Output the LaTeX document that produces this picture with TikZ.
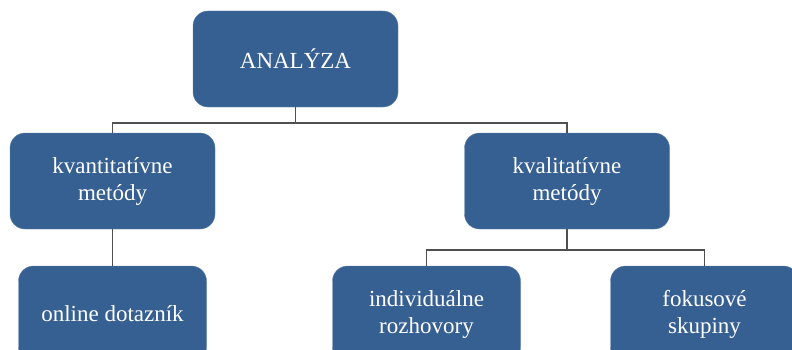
\documentclass[tikz,border=0pt]{standalone}
\usepackage{fontspec}
\setmainfont{Liberation Serif}
\usepackage{tikz}
\usetikzlibrary{positioning, shapes.geometric}
\definecolor{boxblue}{RGB}{55,96,146}
\definecolor{linegray}{RGB}{80,80,80}
\tikzset{
  topbox/.style={ fill=boxblue, draw=boxblue!80!white, rounded corners=15pt, text=white, align=center,
    minimum width=205pt, minimum height=96pt, font=\fontsize{23}{27}\selectfont }
}
\tikzset{
  leafbox/.style={ topbox, minimum width=188pt }
}
\tikzset{
  link/.style={ draw=linegray, line width=1.4pt }
}

\begin{document}
\begin{tikzpicture}[x=1pt, y=1pt]
      \useasboundingbox (0,0) rectangle (792,349);

      \node[topbox] (ana) at (295.5, 290) {ANALÝZA};

      \node[topbox] (kvant) at (112.5, 168) {kvantitatívne\\metódy};
      \node[topbox] (kval) at (567, 168) {kvalitatívne\\metódy};

      \node[leafbox] (online) at (112.5, 35) {online dotazník};
      \node[leafbox] (indiv) at (426.5, 35) {individuálne\\rozhovory};
      \node[leafbox] (fokus) at (704.5, 35) {fokusové\\skupiny};

      \coordinate (bus1) at (ana.south |- 0, 226);
      \coordinate (bus2) at (kval.south |- 0, 99);

      \begin{scope}[link]
        \draw (ana.south) -- (bus1) -| (kvant.north);
        \draw (bus1) -| (kval.north);

        \draw (kvant) -- (online);

        \draw (kval.south) -- (bus2) -| (indiv.north);
        \draw (bus2) -| (fokus.north);
      \end{scope}
    \end{tikzpicture}
\end{document}
